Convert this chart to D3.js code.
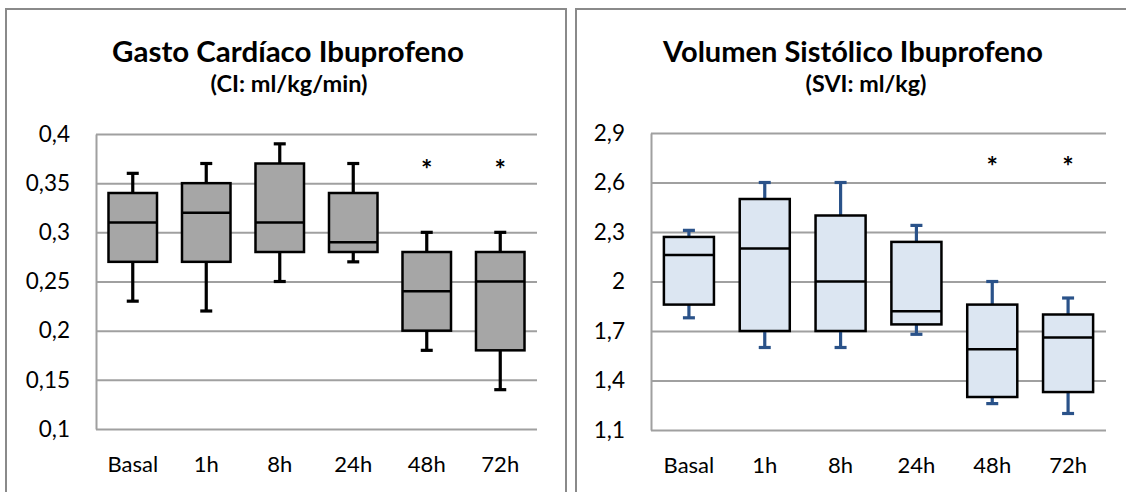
<!DOCTYPE html>
<html>
<head>
<meta charset="utf-8">
<script src="https://cdn.jsdelivr.net/npm/d3@7"></script>
<style>
  body { margin: 0; background: #fff; }
  svg { display: block; }
  text { font-family: Lato, "Open Sans", sans-serif; fill: #000; }
</style>
</head>
<body>
<svg id="chart"></svg>
<script>
const categories = ["Basal", "1h", "8h", "24h", "48h", "72h"];

// Gasto cardíaco (CI: ml/kg/min)
const ciTicks = [0.1, 0.15, 0.2, 0.25, 0.3, 0.35, 0.4];
const ciMin = [0.23, 0.22, 0.25, 0.27, 0.18, 0.14];
const ciQ1 = [0.27, 0.27, 0.28, 0.28, 0.20, 0.18];
const ciMedian = [0.31, 0.32, 0.31, 0.29, 0.24, 0.25];
const ciQ3 = [0.34, 0.35, 0.37, 0.34, 0.28, 0.28];
const ciMax = [0.36, 0.37, 0.39, 0.37, 0.30, 0.30];
const ciStars = ["48h", "72h"];
const ciStarLevel = 0.37;

// Volumen sistólico (SVI: ml/kg)
const svTicks = [1.1, 1.4, 1.7, 2, 2.3, 2.6, 2.9];
const svMin = [1.78, 1.60, 1.60, 1.68, 1.26, 1.20];
const svQ1 = [1.86, 1.70, 1.70, 1.74, 1.30, 1.33];
const svMedian = [2.16, 2.20, 2.00, 1.82, 1.59, 1.66];
const svQ3 = [2.27, 2.50, 2.40, 2.24, 1.86, 1.80];
const svMax = [2.31, 2.60, 2.60, 2.34, 2.00, 1.90];
const svStars = ["48h", "72h"];
const svStarLevel = 2.73;

const svg = d3.select("#chart").attr("width", 1126).attr("height", 492);

// scale a text's font size so it spans roughly the given width
function fitWidth(sel, size, width) {
    sel.attr("font-size", size);
    const len = sel.node().getComputedTextLength();
    if (len > 0) sel.attr("font-size", size * width / len);
}

class BoxPanel {
    constructor(svg, opts) {
        this.svg = svg;
        this.o = opts;
    }

    draw() {
        const o = this.o;
        const g = this.svg.append("g");

        // outer frame (bottom edge runs off the picture)
        g.append("rect")
            .attr("x", o.frameX).attr("y", 9)
            .attr("width", 560).attr("height", 520)
            .attr("fill", "none")
            .attr("stroke", "#8a8a8a")
            .attr("stroke-width", 2);

        const title = g.append("text")
            .attr("x", o.titleX).attr("y", 62)
            .attr("text-anchor", "middle")
            .attr("font-weight", "bold")
            .text(o.title);
        fitWidth(title, 28, o.titleW);

        const sub = g.append("text")
            .attr("x", o.subX).attr("y", 92)
            .attr("text-anchor", "middle")
            .attr("font-weight", "bold")
            .text(o.subtitle);
        fitWidth(sub, 22, o.subW);

        const data = categories.map((c, i) => ({
            cat: c, min: o.min[i], q1: o.q1[i], med: o.median[i], q3: o.q3[i], max: o.max[i]
        }));

        const x = d3.scaleBand().domain(categories).range([o.left, o.right]);
        const y = d3.scaleLinear().domain(d3.extent(o.ticks)).range([o.bottom, o.top]);
        const w = o.right - o.left;
        const fmt = d => String(d).replace(".", ",");

        // y axis with gridlines
        const yAxis = g.append("g")
            .attr("transform", `translate(${o.left},0)`)
            .call(d3.axisLeft(y).tickValues(o.ticks).tickFormat(fmt)
                .tickSize(-w).tickSizeOuter(0).tickPadding(26));
        yAxis.select(".domain").attr("stroke", "#a0a0a0").attr("stroke-width", 2);
        yAxis.selectAll(".tick line").attr("stroke", "#a0a0a0").attr("stroke-width", 2);
        yAxis.selectAll(".tick text")
            .attr("font-size", 22.5).attr("font-family", "Lato, sans-serif").attr("fill", "#000");

        // x axis labels
        const xAxis = g.append("g")
            .attr("transform", `translate(0,${o.bottom})`)
            .call(d3.axisBottom(x).tickSize(0).tickPadding(27));
        xAxis.select(".domain").remove();
        xAxis.selectAll(".tick text")
            .attr("font-size", 22).attr("font-family", "Lato, sans-serif").attr("fill", "#000");

        const boxW = x.bandwidth() * 0.66;
        const capW = 12;
        const cx = d => x(d.cat) + x.bandwidth() / 2;

        const boxes = g.append("g").selectAll("g")
            .data(data)
            .join("g");

        // whiskers
        boxes.append("line")
            .attr("x1", cx).attr("x2", cx)
            .attr("y1", d => y(d.max)).attr("y2", d => y(d.q3))
            .attr("stroke", o.whisker).attr("stroke-width", 3.2);
        boxes.append("line")
            .attr("x1", cx).attr("x2", cx)
            .attr("y1", d => y(d.q1)).attr("y2", d => y(d.min))
            .attr("stroke", o.whisker).attr("stroke-width", 3.2);
        boxes.append("line")
            .attr("x1", d => cx(d) - capW / 2).attr("x2", d => cx(d) + capW / 2)
            .attr("y1", d => y(d.max)).attr("y2", d => y(d.max))
            .attr("stroke", o.whisker).attr("stroke-width", 3.2);
        boxes.append("line")
            .attr("x1", d => cx(d) - capW / 2).attr("x2", d => cx(d) + capW / 2)
            .attr("y1", d => y(d.min)).attr("y2", d => y(d.min))
            .attr("stroke", o.whisker).attr("stroke-width", 3.2);

        // boxes
        boxes.append("rect")
            .attr("x", d => cx(d) - boxW / 2)
            .attr("y", d => y(d.q3))
            .attr("width", boxW)
            .attr("height", d => y(d.q1) - y(d.q3))
            .attr("fill", o.fill)
            .attr("stroke", "#000")
            .attr("stroke-width", 2.5);

        boxes.append("line")
            .attr("x1", d => cx(d) - boxW / 2).attr("x2", d => cx(d) + boxW / 2)
            .attr("y1", d => y(d.med)).attr("y2", d => y(d.med))
            .attr("stroke", "#000").attr("stroke-width", 2.5);

        // significance marks
        g.append("g").selectAll("text")
            .data(o.stars)
            .join("text")
            .attr("x", d => x(d) + x.bandwidth() / 2)
            .attr("y", y(o.starLevel))
            .attr("dy", "0.56em")
            .attr("text-anchor", "middle")
            .attr("font-family", "'DejaVu Sans', sans-serif")
            .attr("font-weight", "bold")
            .attr("font-size", 27)
            .text("*");
    }
}

new BoxPanel(svg, {
    frameX: 6, left: 96, right: 537, top: 134, bottom: 429,
    titleX: 288, subX: 289, titleW: 352, subW: 157,
    title: "Gasto Cardíaco Ibuprofeno", subtitle: "(CI: ml/kg/min)",
    ticks: ciTicks, min: ciMin, q1: ciQ1, median: ciMedian, q3: ciQ3, max: ciMax,
    stars: ciStars, starLevel: ciStarLevel,
    fill: "#a6a6a6", whisker: "#000"
}).draw();

new BoxPanel(svg, {
    frameX: 576, left: 651, right: 1106, top: 133, bottom: 430,
    titleX: 853, subX: 866, titleW: 380, subW: 121,
    title: "Volumen Sistólico Ibuprofeno", subtitle: "(SVI: ml/kg)",
    ticks: svTicks, min: svMin, q1: svQ1, median: svMedian, q3: svQ3, max: svMax,
    stars: svStars, starLevel: svStarLevel,
    fill: "#dce6f2", whisker: "#2a5289"
}).draw();
</script>
</body>
</html>
